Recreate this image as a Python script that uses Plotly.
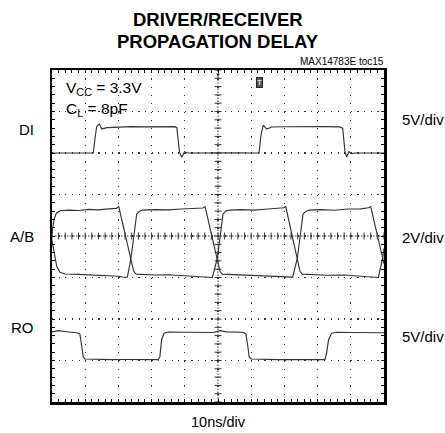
import numpy as np
import plotly.graph_objects as go

# ---------------- data (time in ns, levels in volts) ----------------
DI_t = [0, 5, 10, 12.45, 12.95, 13.45, 14.25, 15.0, 16.5, 20, 24, 28, 32, 35, 37.0, 37.6, 38.4, 39.1, 39.9, 40.8,
        44, 48, 52, 56, 60, 62.35, 62.95, 63.65, 64.65, 66.2, 70, 74, 78, 82, 86.7, 87.55, 88.25, 88.75, 89.45, 90.3,
        91.3, 95, 100]
DI_v = [0.0, 0.02, -0.02, 0.0, 1.77, 3.17, 3.49, 2.89, 3.05, 3.12, 3.17, 3.15, 3.19, 3.17, 3.17, 3.05, 0.1, -0.52, 0.16, 0.0,
        0.02, -0.02, 0.0, 0.03, 0.0, 0.0, 2.17, 3.37, 2.89, 3.13, 3.16, 3.19, 3.15, 3.18, 3.14, 3.0, 0.16, -0.45, 0.16, -0.08,
        0.0, 0.02, 0.0]

A_t = [0, 0.6, 1.3, 2.4, 5, 8, 11, 14, 17, 19.4, 20.1, 23.8, 24.6, 25.3, 27, 31, 35, 39, 43, 46.5,
       48.3, 49.8, 51.5, 52.3, 53.5, 57, 61, 65, 68, 69.8, 70.4, 73.9, 74.7, 75.4, 78, 83, 88, 93, 97, 98.3,
       99.6, 100]
A_v = [2.1, 2.8, 3.1, 3.22, 3.25, 3.23, 3.28, 3.26, 3.31, 3.33, 3.42, 0.93, 0.3, 0.16, 0.14, 0.12, 0.13, 0.09, 0.08, 0.03,
       0.0, 0.93, 3.05, 3.2, 3.25, 3.27, 3.25, 3.3, 3.32, 3.36, 3.42, 0.93, 0.3, 0.16, 0.14, 0.11, 0.12, 0.07, 0.04, 0.0,
       0.93, 1.4]

B_t = [0, 0.7, 1.4, 2.4, 4, 8, 12, 16, 20, 22.0, 22.7, 23.8, 25.5, 26.3, 27.3, 31, 35, 39, 43, 45.4,
       46.1, 49.8, 50.6, 51.3, 54, 58, 63, 68, 71.5, 72.5, 73.9, 75.6, 76.4, 77.5, 81, 85, 89, 93, 95.3, 96.0,
       99.6, 100]
B_v = [1.8, 1.1, 0.55, 0.25, 0.17, 0.15, 0.13, 0.11, 0.06, 0.0, 0.02, 0.93, 3.05, 3.18, 3.25, 3.27, 3.26, 3.3, 3.32, 3.35,
       3.42, 0.93, 0.3, 0.16, 0.14, 0.12, 0.1, 0.06, 0.0, 0.02, 0.93, 3.05, 3.18, 3.25, 3.27, 3.24, 3.3, 3.31, 3.36, 3.42,
       0.93, 0.66]

RO_t = [0, 1.9, 4.4, 7.4, 8.4, 8.95, 9.45, 9.95, 14, 18, 22, 26, 30, 32.0, 32.5, 33.0, 33.75, 35.0, 40, 45,
        48.6, 50.6, 52.5, 57.6, 58.4, 59.0, 59.4, 60.1, 64, 68, 72, 76, 80, 82.2, 82.7, 83.3, 84.2, 85.7, 90, 95,
        100]
RO_v = [3.45, 3.59, 3.47, 3.35, 3.2, 1.66, 0.39, 0.18, 0.12, 0.1, 0.12, 0.09, 0.11, 0.1, 0.46, 2.47, 3.28, 3.43, 3.4, 3.42,
        3.38, 3.59, 3.45, 3.4, 3.2, 1.66, 0.39, 0.18, 0.12, 0.1, 0.11, 0.09, 0.1, 0.1, 0.87, 2.47, 3.28, 3.4, 3.38, 3.37,
        3.35]

# scope settings
NS_PER_DIV = 10
N_XDIV = 10
N_YDIV = 8
CH_LABELS = ["DI", "A/B", "RO"]
CH_SCALE = [5, 2, 5]          # V/div
CH_GND_DIV = [2, -1, -3]      # division position of 0 V
CH_SCALE_TEXT = ["5V/div", "2V/div", "5V/div"]
TIME_TEXT = "10ns/div"
TITLE_LINES = ["DRIVER/RECEIVER", "PROPAGATION DELAY"]
TOC = "MAX14783E toc15"

W, H = 445, 433
ML, MR, MT, MB = 52, 61, 70, 31
PW, PH = W - ML - MR, H - MT - MB

FONT = "Liberation Sans, Arial, sans-serif"
TRACE_COLOR = "#333333"
half = N_YDIV / 2


def ch_range(i):
    s, g = CH_SCALE[i], CH_GND_DIV[i]
    return [(-half - g) * s, (half - g) * s]


fig = go.Figure()

# centre graticule tick marks
xc = np.arange(0, NS_PER_DIV * N_XDIV + 0.01, NS_PER_DIV / 5)
yc = np.arange(-half, half + 0.001, 0.2)
fig.add_trace(go.Scatter(x=xc, y=np.zeros_like(xc), mode="markers", xaxis="x", yaxis="y",
                         marker=dict(symbol="line-ns", size=5, line=dict(width=1, color="#333")),
                         hoverinfo="skip", showlegend=False))
fig.add_trace(go.Scatter(x=np.full_like(yc, NS_PER_DIV * N_XDIV / 2), y=yc, mode="markers", xaxis="x", yaxis="y",
                         marker=dict(symbol="line-ew", size=5, line=dict(width=1, color="#333")),
                         hoverinfo="skip", showlegend=False))

line = dict(color=TRACE_COLOR, width=1.15)
fig.add_trace(go.Scatter(x=DI_t, y=DI_v, mode="lines", line=line, yaxis="y2", showlegend=False, hoverinfo="skip"))
fig.add_trace(go.Scatter(x=A_t, y=A_v, mode="lines", line=line, yaxis="y3", showlegend=False, hoverinfo="skip"))
fig.add_trace(go.Scatter(x=B_t, y=B_v, mode="lines", line=line, yaxis="y3", showlegend=False, hoverinfo="skip"))
fig.add_trace(go.Scatter(x=RO_t, y=RO_v, mode="lines", line=line, yaxis="y4", showlegend=False, hoverinfo="skip"))

xdot = PH / N_YDIV / 5
ydot = PW / N_XDIV / 5
frame = dict(showline=True, linecolor="black", linewidth=2.5, mirror="allticks",
             ticks="inside", ticklen=3, tickcolor="black", tickwidth=1,
             showticklabels=False, zeroline=False, showgrid=True, gridcolor="#333", gridwidth=1.2)

fig.update_layout(
    width=W, height=H, margin=dict(l=ML, r=MR, t=MT, b=MB, pad=0),
    paper_bgcolor="white", plot_bgcolor="white",
    xaxis=dict(range=[0, NS_PER_DIV * N_XDIV], dtick=NS_PER_DIV, griddash=f"1.2px,{xdot-1.2:.2f}px",
               minor=dict(ticks="inside", ticklen=3, dtick=NS_PER_DIV / 5, tickcolor="black", showgrid=False),
               **frame),
    yaxis=dict(range=[-half, half], dtick=1, griddash=f"1.2px,{ydot-1.2:.2f}px",
               minor=dict(ticks="inside", ticklen=3, dtick=0.2, tickcolor="black", showgrid=False),
               **frame),
    yaxis2=dict(range=ch_range(0), overlaying="y", visible=False),
    yaxis3=dict(range=ch_range(1), overlaying="y", visible=False),
    yaxis4=dict(range=ch_range(2), overlaying="y", visible=False),
    font=dict(family=FONT, color="black"),
)

# centre lines
fig.add_shape(type="line", xref="x", yref="y", x0=0, x1=NS_PER_DIV * N_XDIV, y0=0, y1=0,
              line=dict(color="#333", width=1, dash="1.5px,1.5px"), layer="below")
fig.add_shape(type="line", xref="x", yref="y", x0=NS_PER_DIV * N_XDIV / 2, x1=NS_PER_DIV * N_XDIV / 2, y0=-half, y1=half,
              line=dict(color="#333", width=1, dash="1.5px,1.5px"), layer="below")


def px2paper_x(px):
    return (px - ML) / PW


def py2paper_y(py):
    return (MT + PH - py) / PH


TITLE_FONT = dict(family="Liberation Sans, Arial, sans-serif", size=18.5)
ann = []
ann.append(dict(text=f"<b>{TITLE_LINES[0]}</b>", x=0.5, y=py2paper_y(19), xanchor="center", yanchor="middle",
                font=TITLE_FONT))
ann.append(dict(text=f"<b>{TITLE_LINES[1]}</b>", x=0.5, y=py2paper_y(41.5), xanchor="center", yanchor="middle",
                font=TITLE_FONT))
ann.append(dict(text=TOC, x=px2paper_x(385.5), y=py2paper_y(62), xanchor="right", yanchor="middle",
                font=dict(size=10)))
# conditions
ann.append(dict(text="V<sub>CC</sub> = 3.3V", x=px2paper_x(64), y=py2paper_y(88), xanchor="left", yanchor="middle",
                font=dict(size=15.5)))
ann.append(dict(text="C<sub>L</sub> = 8pF", x=px2paper_x(64), y=py2paper_y(109.5), xanchor="left", yanchor="middle",
                font=dict(size=15.5)))
# channel labels
ch_label_y = [129.5, 236, 327]
scale_y = [119.5, 237, 336]
for i in range(3):
    ann.append(dict(text=CH_LABELS[i], x=px2paper_x(36), y=py2paper_y(ch_label_y[i]), xanchor="right",
                    yanchor="middle", font=dict(size=15)))
    ann.append(dict(text=CH_SCALE_TEXT[i], x=px2paper_x(400), y=py2paper_y(scale_y[i]), xanchor="left",
                    yanchor="middle", font=dict(size=15)))
ann.append(dict(text=TIME_TEXT, x=0.5, y=py2paper_y(421.5), xanchor="center", yanchor="middle", font=dict(size=14.5)))
# trigger markers
ann.append(dict(text="T", x=px2paper_x(259.3), y=py2paper_y(82.5), xanchor="center", yanchor="middle",
                font=dict(size=8, color="white"), bgcolor="#555", bordercolor="#222", borderwidth=1, borderpad=0))
ann.append(dict(text="▼", x=0.5, y=1.0, xanchor="center", yanchor="top", font=dict(size=6, color="#222")))

for a in ann:
    a.update(xref="paper", yref="paper", showarrow=False)
fig.update_layout(annotations=ann)

fig.write_html("out.html", config={"displayModeBar": False, "staticPlot": True},
               post_script="document.body.style.margin='0';document.body.style.overflow='hidden';")
